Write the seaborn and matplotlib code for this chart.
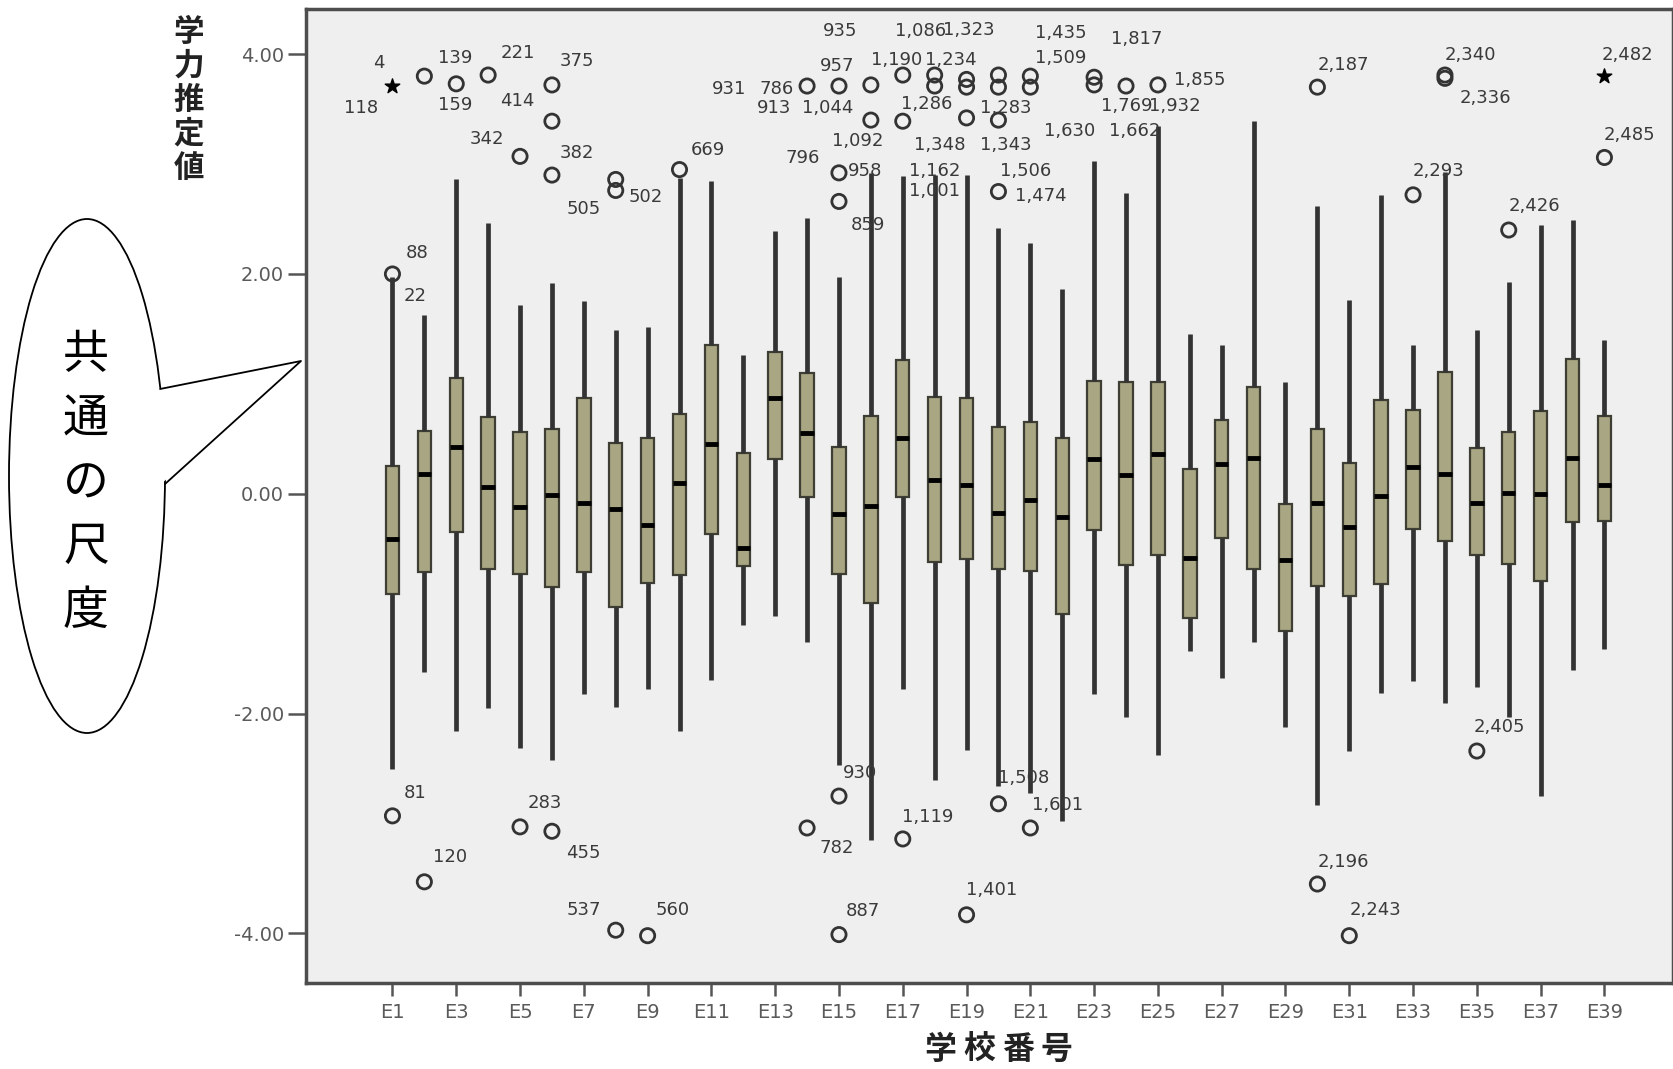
import numpy as np
import pandas as pd
import seaborn as sns
import matplotlib.pyplot as plt
from matplotlib.patches import Ellipse, Polygon

# ---------------------------------------------------------------- data
schools = ["E1", "E2", "E3", "E4", "E5", "E6", "E7", "E8", "E9", "E10",
           "E11", "E12", "E13", "E14", "E15", "E16", "E17", "E18", "E19", "E20",
           "E21", "E22", "E23", "E24", "E25", "E26", "E27", "E28", "E29", "E30",
           "E31", "E32", "E33", "E34", "E35", "E36", "E37", "E38", "E39"]

whis_hi = [1.97, 1.63, 2.86, 2.46, 1.72, 1.92, 1.75, 1.49, 1.52, 2.87,
           2.85, 1.26, 2.39, 2.51, 1.97, 2.92, 2.89, 2.90, 2.90, 2.42,
           2.28, 1.86, 3.03, 2.74, 3.35, 1.45, 1.35, 3.39, 1.02, 2.62,
           1.76, 2.72, 1.35, 2.93, 1.49, 1.93, 2.45, 2.49, 1.40]
q3 = [0.25, 0.57, 1.05, 0.70, 0.56, 0.59, 0.87, 0.46, 0.51, 0.73,
      1.35, 0.37, 1.29, 1.10, 0.43, 0.71, 1.22, 0.88, 0.87, 0.61,
      0.65, 0.51, 1.03, 1.02, 1.02, 0.23, 0.67, 0.97, -0.09, 0.59,
      0.28, 0.85, 0.76, 1.11, 0.42, 0.56, 0.75, 1.23, 0.71]
med = [-0.41, 0.18, 0.43, 0.06, -0.12, -0.01, -0.08, -0.14, -0.28, 0.10,
       0.45, -0.49, 0.87, 0.55, -0.18, -0.11, 0.51, 0.13, 0.08, -0.17,
       -0.06, -0.21, 0.32, 0.17, 0.36, -0.58, 0.27, 0.33, -0.60, -0.08,
       -0.30, -0.02, 0.24, 0.18, -0.08, 0.01, 0.00, 0.33, 0.08]
q1 = [-0.91, -0.71, -0.35, -0.68, -0.73, -0.85, -0.71, -1.03, -0.81, -0.74,
      -0.37, -0.66, 0.32, -0.03, -0.73, -0.99, -0.03, -0.62, -0.59, -0.68,
      -0.70, -1.09, -0.33, -0.65, -0.56, -1.13, -0.40, -0.68, -1.25, -0.84,
      -0.93, -0.82, -0.32, -0.43, -0.56, -0.64, -0.79, -0.26, -0.25]
whis_lo = [-2.50, -1.62, -2.16, -1.95, -2.31, -2.42, -1.82, -1.94, -1.78, -2.16,
           -1.69, -1.19, -1.11, -1.35, -2.47, -3.15, -1.78, -2.60, -2.33, -2.66,
           -2.72, -2.98, -1.82, -2.03, -2.38, -1.43, -1.68, -1.35, -2.12, -2.83,
           -2.34, -1.81, -1.70, -1.90, -1.76, -2.03, -2.75, -1.60, -1.41]

# outliers ("o") and extremes ("*")
out_school = ["E1", "E1", "E1", "E2", "E2", "E3", "E4", "E5", "E5",
              "E6", "E6", "E6", "E6", "E8", "E8", "E8", "E9", "E10",
              "E14", "E14", "E15", "E15", "E15", "E15", "E15", "E16", "E16",
              "E17", "E17", "E17", "E18", "E18", "E19", "E19", "E19", "E19",
              "E20", "E20", "E20", "E20", "E20", "E21", "E21", "E21",
              "E23", "E23", "E24", "E25", "E30", "E30", "E31", "E33",
              "E34", "E34", "E35", "E36", "E39", "E39"]
out_value = [3.71, 2.00, -2.93, 3.80, -3.53, 3.73, 3.81, 3.07, -3.03,
             3.72, 3.39, 2.90, -3.07, 2.86, 2.76, -3.97, -4.02, 2.95,
             3.71, -3.04, 3.71, 2.92, 2.66, -2.75, -4.01, 3.72, 3.40,
             3.81, 3.39, -3.14, 3.81, 3.71, 3.77, 3.70, 3.42, -3.83,
             3.81, 3.70, 3.40, 2.75, -2.82, 3.80, 3.70, -3.04,
             3.79, 3.72, 3.71, 3.72, 3.70, -3.55, -4.02, 2.72,
             3.81, 3.78, -2.34, 2.40, 3.80, 3.06]
out_marker = ["*", "o", "o", "o", "o", "o", "o", "o", "o",
              "o", "o", "o", "o", "o", "o", "o", "o", "o",
              "o", "o", "o", "o", "o", "o", "o", "o", "o",
              "o", "o", "o", "o", "o", "o", "o", "o", "o",
              "o", "o", "o", "o", "o", "o", "o", "o",
              "o", "o", "o", "o", "o", "o", "o", "o",
              "o", "o", "o", "o", "*", "o"]

# case numbers printed next to the points
lab_school = ["E1", "E1", "E1", "E1", "E1", "E2", "E2", "E3", "E4", "E5", "E5",
              "E6", "E6", "E6", "E6", "E8", "E8", "E8", "E9", "E10",
              "E14", "E14", "E14", "E15", "E15", "E15", "E15", "E15", "E15", "E15",
              "E17", "E18", "E18", "E17", "E19", "E20", "E21", "E21", "E23",
              "E24", "E25", "E25", "E18", "E18", "E18", "E20", "E20", "E20",
              "E23", "E25", "E14", "E15", "E15", "E17", "E19", "E20", "E21",
              "E30", "E30", "E31", "E33", "E34", "E34", "E35", "E36", "E39", "E39"]
lab_value = [3.71, 3.71, 2.00, 2.00, -2.93, 3.80, -3.53, 3.73, 3.81, 3.07, -3.03,
             3.72, 3.39, 2.90, -3.07, 2.86, 2.76, -3.97, -4.02, 2.95,
             3.71, 3.71, 3.71, 3.71, 3.71, 3.71, 2.92, 2.92, 2.92, 2.66,
             3.81, 3.81, 3.81, 3.39, 3.77, 3.40, 3.80, 3.80, 3.79,
             3.71, 3.72, 3.72, 2.90, 2.90, 2.90, 2.75, 2.75, 2.75,
             3.03, 3.35, -3.04, -2.75, -4.01, -3.14, -3.83, -2.82, -3.04,
             3.70, -3.55, -4.02, 2.72, 3.81, 3.81, -2.34, 2.40, 3.80, 3.06]
lab_text = ["4", "118", "88", "22", "81", "139", "120", "159", "221", "342", "283",
            "375", "414", "382", "455", "505", "502", "537", "560", "669",
            "931", "786", "913", "957", "935", "1,044", "796", "1,092", "958", "859",
            "1,190", "1,234", "1,086", "1,286", "1,323", "1,283", "1,435", "1,509", "1,817",
            "1,769", "1,855", "1,932", "1,348", "1,162", "1,001", "1,474", "1,506", "1,343",
            "1,630", "1,662", "782", "930", "887", "1,119", "1,401", "1,508", "1,601",
            "2,187", "2,196", "2,243", "2,293", "2,340", "2,336", "2,405", "2,426", "2,482", "2,485"]

# label placement (pixel offset from the point), layout only
lab_offset = [(-14, 23), (-31, -22), (25, 21), (23, -22), (23, 23), (31, 18), (26, 25),
              (-1, -21), (30, 22), (-33, 17), (25, 24),
              (25, 24), (-35, 20), (25, 22), (31, -22), (-32, -30), (30, -7), (-32, 20),
              (25, 26), (28, 20),
              (-78, -3), (-30, -3), (-33, -22), (-2, 20), (1, 55), (-11, -22),
              (-36, 15), (19, 32), (26, 2), (29, -24),
              (-6, 15), (16, 15), (-14, 44), (24, 17), (2, 49), (7, 12), (30, 43),
              (30, 18), (43, 38),
              (1, -20), (42, 5), (17, -21), (5, 30), (0, 4), (0, -16), (42, -4),
              (27, 21), (7, 47),
              (-24, 30), (-23, -5), (30, -20), (21, 23), (24, 24), (25, 22),
              (25, 25), (25, 26), (27, 23),
              (26, 22), (26, 22), (26, 26), (25, 24), (25, 20), (40, -23),
              (23, 24), (26, 24), (23, 21), (25, 22)]

# --------------------------------------------------------------- style
sns.set_theme(style="white")
plt.rcParams["font.family"] = ["DejaVu Sans", "Noto Sans CJK JP"]
cjk = ["Noto Sans CJK JP", "DejaVu Sans"]

# five summary numbers per school -> seaborn computes the same box
rows = []
for i, s in enumerate(schools):
    for v in (whis_lo[i], q1[i], med[i], q3[i], whis_hi[i]):
        rows.append((s, v))
df = pd.DataFrame(rows, columns=["school", "value"])

fig = plt.figure(figsize=(16.74, 10.69), dpi=100)
ax = fig.add_axes([0.183, 0.0805, 0.8164, 0.911])
ax.set_facecolor("#efefef")

sns.boxplot(data=df, x="school", y="value", order=schools, whis=(0, 100),
            width=0.42, color="#a9a683", saturation=1, linecolor="#3e3e34",
            linewidth=1.6, showfliers=False, showcaps=False,
            whiskerprops=dict(color="#333333", linewidth=3.4),
            medianprops=dict(color="black", linewidth=3.5, solid_capstyle="butt"),
            ax=ax)

odf = pd.DataFrame({"pos": [schools.index(s) for s in out_school],
                    "value": out_value, "marker": out_marker})
circ = odf[odf["marker"] == "o"]
star = odf[odf["marker"] == "*"]
ax.scatter(circ["pos"], circ["value"], s=105, facecolors="none",
           edgecolors="#333333", linewidths=2, zorder=4)
ax.scatter(star["pos"], star["value"], s=120, marker="*", color="black", zorder=4)

for s, v, t, (dx, dy) in zip(lab_school, lab_value, lab_text, lab_offset):
    ax.annotate(t, (schools.index(s), v), xytext=(dx, dy), textcoords="offset pixels",
                ha="center", va="center", fontsize=13, color="#3a3a3a", zorder=5)

ax.set_xlim(-2.7, 40.15)
ax.set_ylim(-4.45, 4.41)
ax.set_yticks([4, 2, 0, -2, -4])
ax.set_yticklabels(["4.00", "2.00", "0.00", "-2.00", "-4.00"])
ax.set_xticks(range(0, 39, 2))
ax.set_xticklabels(schools[::2])
ax.tick_params(axis="y", left=True, length=13, width=1.8, color="#555555",
               labelsize=14, labelcolor="#5a5a5a", pad=3)
ax.tick_params(axis="x", bottom=True, length=9.5, width=1.8, color="#555555",
               labelsize=14, labelcolor="#5a5a5a", pad=5)
ax.set_xlabel("")
ax.set_ylabel("")
for sp in ax.spines.values():
    sp.set_color("#4d4d4d")
    sp.set_linewidth(2.5)

# ----------------------------------------------- axis titles + speech bubble
ov = fig.add_axes([0, 0, 1, 1])
ov.set_xlim(0, 1674)
ov.set_ylim(1069, 0)
ov.axis("off")

for k, ch in enumerate("学力推定値"):
    ov.text(189, 32 + 34 * k, ch, ha="center", va="center", fontsize=22,
            fontweight="bold", color="#222222", family=cjk)
for k, ch in enumerate("学校番号"):
    ov.text(940 + 39 * k, 1050, ch, ha="center", va="center", fontsize=23,
            fontweight="bold", color="#222222", family=cjk)

ov.add_patch(Ellipse((87, 476), 156, 514, facecolor="white", edgecolor="black", lw=1.3))
tail = [(160, 389), (301, 361), (165, 484)]
ov.add_patch(Polygon([(156, 389), (301, 361), (161, 484)], closed=True,
                     facecolor="white", edgecolor="none"))
ov.plot([p[0] for p in tail], [p[1] for p in tail], color="black", lw=1.3)
for k, ch in enumerate("共通の尺度"):
    ov.text(86, 355 + 64 * k, ch, ha="center", va="center", fontsize=33,
            color="black", family=cjk)

fig.savefig("out.png", dpi=100)
